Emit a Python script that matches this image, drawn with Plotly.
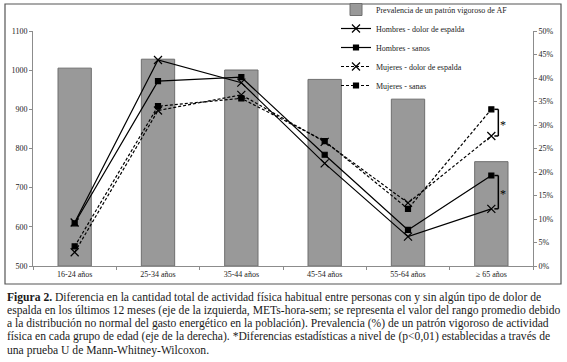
import plotly.graph_objects as go

categories = ["16-24 años", "25-34 años", "35-44 años", "45-54 años", "55-64 años", "≥ 65 años"]
prev_vigoroso = [0.421, 0.440, 0.417, 0.397, 0.355, 0.222]
hombres_dolor = [611, 1026, 968, 762, 575, 646]
hombres_sanos = [609, 972, 982, 784, 592, 731]
mujeres_dolor = [535, 897, 937, 817, 661, 832]
mujeres_sanas = [550, 908, 928, 819, 646, 900]

caption_lines = [
    "<b>Figura 2.</b> Diferencia en la cantidad total de actividad física habitual entre personas con y sin algún tipo de dolor de",
    "espalda en los últimos 12 meses (eje de la izquierda, METs-hora-sem; se representa el valor del rango promedio debido",
    "a la distribución no normal del gasto energético en la población). Prevalencia (%) de un patrón vigoroso de actividad",
    "física en cada grupo de edad (eje de la derecha). *Diferencias estadísticas a nivel de (p<0,01) establecidas a través de",
    "una prueba U de Mann-Whitney-Wilcoxon.",
]

W, H = 567, 362
L, R, T, B = 33, 34, 31, 96
PW, PH = W - L - R, H - T - B

def px(x):
    return (x - L) / PW

def py(y):
    return (H - B - y) / PH

SERIF = "Liberation Serif"
fig = go.Figure()

fig.add_trace(go.Bar(
    x=categories, y=prev_vigoroso, name="Prevalencia de un patrón vigoroso de AF",
    marker=dict(color="#999999", line=dict(color="#6f6f6f", width=1)),
    width=0.4, yaxis="y",
))

line_specs = [
    ("Hombres - dolor de espalda", hombres_dolor, "solid", "x-thin-open"),
    ("Hombres - sanos", hombres_sanos, "solid", "square"),
    ("Mujeres - dolor de espalda", mujeres_dolor, "3px,2px", "x-thin-open"),
    ("Mujeres - sanas", mujeres_sanas, "3px,2px", "square"),
]
for i, (name, vals, dash, sym) in enumerate(line_specs):
    marker = dict(symbol=sym, color="black", size=8 if "x" in sym else 5,
                  line=dict(color="black", width=1.2))
    fig.add_trace(go.Scatter(
        x=categories, y=vals, name=name, mode="lines+markers", yaxis="y2",
        line=dict(color="black", width=1.2, dash=dash), marker=marker,
    ))

# significance brackets at last category
shapes = []
annotations = []
last = len(categories) - 1
for a, b in [(mujeres_sanas, mujeres_dolor), (hombres_sanos, hombres_dolor)]:
    top, bot = a[last], b[last]
    common = dict(type="line", xref="x", yref="y2", xsizemode="pixel", xanchor=last,
                  line=dict(color="black", width=1.5))
    shapes.append(dict(x0=3, x1=7, y0=top, y1=top, **common))
    shapes.append(dict(x0=7, x1=7, y0=top, y1=bot, **common))
    shapes.append(dict(x0=3, x1=7, y0=bot, y1=bot, **common))
    annotations.append(dict(x=last, y=(top + bot) / 2, xref="x", yref="y2", text="*",
                            showarrow=False, xshift=12, yshift=-2,
                            font=dict(family=SERIF, size=12, color="black")))

# border around chart
shapes.append(dict(type="rect", xref="paper", yref="paper",
                   x0=px(5), x1=px(561), y0=py(284), y1=py(4),
                   line=dict(color="#555555", width=1.2), fillcolor="rgba(0,0,0,0)", layer="below"))

for i, line in enumerate(caption_lines):
    annotations.append(dict(x=px(5), y=py(297 + i * 13.3), xref="paper", yref="paper",
                            xanchor="left", yanchor="middle", text=line, showarrow=False,
                            font=dict(family=SERIF, size=11.6, color="#1a1a1a")))

axis_common = dict(showline=True, linecolor="#8c8c8c", linewidth=1, ticks="outside",
                   ticklen=3, tickcolor="#8c8c8c", showgrid=False, zeroline=False,
                   automargin=False,
                   tickfont=dict(family=SERIF, size=8, color="#222222"))

fig.update_layout(
    width=W, height=H,
    margin=dict(l=L, r=R, t=T, b=B, pad=0, autoexpand=False),
    paper_bgcolor="white", plot_bgcolor="white",
    font=dict(family=SERIF, size=8, color="#222222"),
    xaxis=dict(type="category", tickson="boundaries", range=[-0.5, 5.5], **axis_common),
    yaxis=dict(side="right", range=[0, 0.5], dtick=0.05, tickformat=".0%", **axis_common),
    yaxis2=dict(side="left", overlaying="y", range=[500, 1100], dtick=100, **axis_common),
    legend=dict(x=px(336), y=py(-5), xanchor="left", yanchor="top",
                bgcolor="rgba(0,0,0,0)", font=dict(family=SERIF, size=8),
                itemwidth=30),
    shapes=shapes, annotations=annotations,
    bargap=0.6,
)

fig.write_html("out.html", config={"displayModeBar": False},
               post_script="document.body.style.margin='0px';")
